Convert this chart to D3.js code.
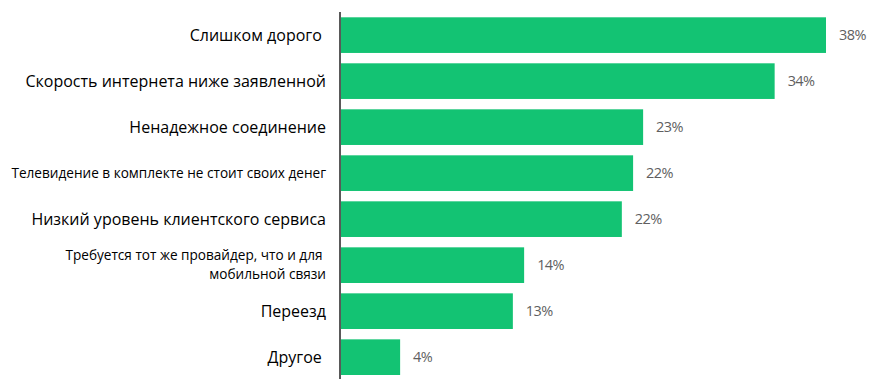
<!DOCTYPE html>
<html><head><meta charset="utf-8">
<script src="https://cdn.jsdelivr.net/npm/d3@7"></script>
<style>
html,body{margin:0;padding:0;background:#fff;}
svg text{white-space:pre;}
</style></head>
<body>
<svg id="chart" width="878" height="392"></svg>
<script>
const categories = [
  ["Слишком дорого "],
  ["Скорость интернета ниже заявленной"],
  ["Ненадежное соединение"],
  ["Телевидение в комплекте не стоит своих денег"],
  ["Низкий уровень клиентского сервиса"],
  ["Требуется тот же провайдер, что и для ", "мобильной связи"],
  ["Переезд"],
  ["Другое "]
];
const smallLabel = [false, false, false, true, false, true, false, false];
// bar lengths (labels as printed)
const values = [38, 33.9, 23.4, 22.6, 21.7, 13.9, 13.0, 4.0];
const valueLabels = ["38%", "34%", "23%", "22%", "22%", "14%", "13%", "4%"];

const svg = d3.select("#chart");
const x = d3.scaleLinear().domain([-0.8, 38]).range([340, 826]);
const y = d3.scaleBand().domain(d3.range(values.length)).range([17.3, 375]).paddingInner(0.225).paddingOuter(0);

svg.append("g").selectAll("rect").data(values).join("rect")
  .attr("x", x(-0.8))
  .attr("y", (d, i) => y(i))
  .attr("width", d => x(d) - x(-0.8))
  .attr("height", y.bandwidth())
  .attr("fill", "#13c373");

svg.append("g").selectAll("text").data(values).join("text")
  .attr("x", d => x(d) + 13)
  .attr("y", (d, i) => y(i) + y.bandwidth() / 2)
  .attr("dy", "0.35em")
  .attr("font-family", "Open Sans, sans-serif")
  .attr("font-size", 14.5)
  .attr("fill", "#5f5f5f")
  .attr("letter-spacing", "-0.6")
  .text((d, i) => valueLabels[i]);

const lab = svg.append("g");
categories.forEach((lines, i) => {
  const fs = smallLabel[i] ? 13.6 : 16;
  const lh = 19;
  const cy = y(i) + y.bandwidth() / 2;
  const t = lab.append("text")
    .attr("text-anchor", "end")
    .attr("font-family", "Open Sans, sans-serif")
    .attr("font-size", fs)
    .attr("fill", "#000");
  lines.forEach((s, j) => {
    t.append("tspan")
      .attr("x", 326)
      .attr("y", cy + (j - (lines.length - 1) / 2) * lh)
      .attr("dy", "0.35em")
      .text(s);
  });
});

svg.append("line")
  .attr("x1", 340).attr("x2", 340)
  .attr("y1", 12).attr("y2", 379)
  .attr("stroke", "#595959")
  .attr("stroke-width", 2);
</script>
</body></html>
